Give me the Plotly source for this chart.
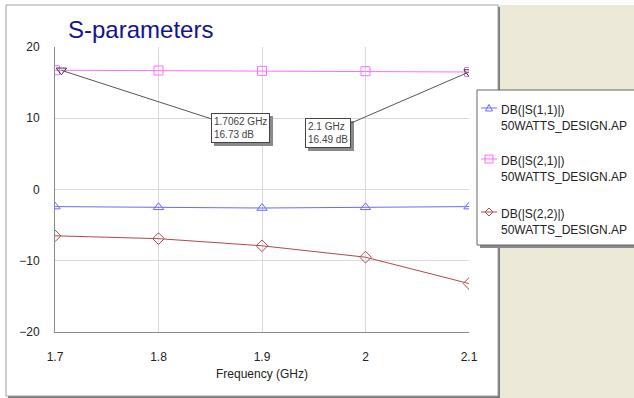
import plotly.graph_objects as go

freq = [1.7, 1.8, 1.9, 2.0, 2.1]
s11 = [-2.4, -2.5, -2.6, -2.5, -2.4]
s21 = [16.74, 16.70, 16.65, 16.60, 16.49]
s22 = [-6.5, -6.9, -7.9, -9.5, -13.2]
mk_freq = [1.7062, 2.1]
mk_val = [16.73, 16.49]
mk_text = ["1.7062 GHz<br>16.73 dB", "2.1 GHz<br>16.49 dB"]
src = "50WATTS_DESIGN.AP"
names = ["DB(|S(1,1)|)", "DB(|S(2,1)|)", "DB(|S(2,2)|)"]
colors = ["#6a6aff", "#ff6cff", "#b24a4a"]

W, H = 634, 398
L, R, T, B = 55, 469, 47, 332

def px(x):
    return (x - L) / (R - L)

def py(y):
    return (B - y) / (B - T)

def path(pts):
    return "M " + " L ".join(f"{px(a):.5f},{py(b):.5f}" for a, b in pts) + " Z"

FONT = "Liberation Sans, Arial, sans-serif"
fig = go.Figure()

series = [(s11, "triangle-up-open"), (s21, "square-open"), (s22, "diamond-open")]
for i, (vals, sym) in enumerate(series):
    col = colors[i]
    fig.add_trace(go.Scatter(
        x=freq, y=vals, mode="lines+markers", showlegend=False,
        name=names[i] + " " + src,
        line=dict(color=col, width=1),
        marker=dict(symbol=sym, size=9, color=col, line=dict(width=1, color=col)),
    ))

fig.add_trace(go.Scatter(
    x=mk_freq, y=mk_val, mode="markers", showlegend=False,
    marker=dict(symbol="triangle-down-open", size=9, color="#333333",
                line=dict(width=1, color="#333333")),
))

shapes = [
    dict(type="rect", xref="paper", yref="paper", x0=px(499), x1=px(640), y0=py(5), y1=py(400),
         fillcolor="#ECE9D8", line=dict(width=0), layer="below"),
    dict(type="rect", xref="paper", yref="paper", x0=px(8), x1=px(500), y0=py(7), y1=py(400),
         fillcolor="#7a7a7a", line=dict(width=0), layer="below"),
    dict(type="rect", xref="paper", yref="paper", x0=px(6), x1=px(498), y0=py(5), y1=py(396),
         fillcolor="white", line=dict(width=1, color="#a0a0a0"), layer="below"),
    dict(type="rect", xref="paper", yref="paper", x0=px(480), x1=px(640), y0=py(93), y1=py(248),
         fillcolor="#8a8a8a", line=dict(width=0), layer="above"),
    dict(type="rect", xref="paper", yref="paper", x0=px(477), x1=px(640), y0=py(90), y1=py(245),
         fillcolor="white", line=dict(width=1, color="#666666"), layer="above"),
]

leg_y = [108, 159, 212]
for i, yc in enumerate(leg_y):
    col = colors[i]
    shapes.append(dict(type="line", xref="paper", yref="paper", x0=px(481), x1=px(497),
                       y0=py(yc), y1=py(yc), line=dict(color=col, width=1), layer="above"))
    if i == 0:
        pts = [(485.5, yc + 3), (492.5, yc + 3), (489, yc - 3.5)]
    elif i == 1:
        pts = [(485, yc - 4), (493, yc - 4), (493, yc + 4), (485, yc + 4)]
    else:
        pts = [(485, yc), (489, yc - 4), (493, yc), (489, yc + 4)]
    shapes.append(dict(type="path", xref="paper", yref="paper", path=path(pts),
                       fillcolor="rgba(0,0,0,0)", line=dict(color=col, width=1), layer="above"))

annotations = [
    dict(text="S-parameters", xref="paper", yref="paper", x=px(66), y=py(29),
         xanchor="left", yanchor="middle", showarrow=False,
         font=dict(family=FONT, size=24, color="#14148a")),
]
for i, yc in enumerate(leg_y):
    annotations.append(dict(text=names[i] + "<br>" + src, xref="paper", yref="paper",
                            x=px(499), y=py(yc + 9.5), xanchor="left", yanchor="middle",
                            showarrow=False, align="left",
                            font=dict(family=FONT, size=12, color="#222222")))

offsets = [(179, 58), (-141, 61)]
for xv, yv, t, (ax, ay) in zip(mk_freq, mk_val, mk_text, offsets):
    annotations.append(dict(x=xv, y=yv, xref="x", yref="y", text=t, showarrow=True,
                            ax=ax, ay=ay, arrowhead=0, arrowwidth=1, arrowcolor="rgba(0,0,0,0)",
                            xshift=3, yshift=-3, align="left",
                            bgcolor="#8a8a8a", bordercolor="#8a8a8a", borderwidth=1, borderpad=2,
                            font=dict(family=FONT, size=10, color="rgba(0,0,0,0)")))
    annotations.append(dict(x=xv, y=yv, xref="x", yref="y", text=t, showarrow=True,
                            ax=ax, ay=ay, arrowhead=0, arrowwidth=1, arrowcolor="#555555",
                            align="left",
                            bgcolor="white", bordercolor="#444444", borderwidth=1, borderpad=2,
                            font=dict(family=FONT, size=10, color="#444444")))

fig.update_layout(
    width=W, height=H,
    margin=dict(l=L, r=W - R, t=T, b=H - B, autoexpand=False),
    paper_bgcolor="white", plot_bgcolor="white",
    font=dict(family=FONT, size=12, color="#222222"),
    shapes=shapes, annotations=annotations, showlegend=False,
    xaxis=dict(range=[1.7, 2.1], tickvals=freq, ticktext=["1.7", "1.8", "1.9", "2", "2.1"],
               showgrid=True, gridcolor="#dadada", zeroline=False,
               showline=True, linecolor="#8a8a8a", linewidth=1,
               ticks="outside", ticklen=14, tickcolor="rgba(0,0,0,0)",
               title=dict(text="Frequency (GHz)", standoff=6, font=dict(size=12)),
               tickfont=dict(size=12)),
    yaxis=dict(range=[-20, 20], tickvals=[-20, -10, 0, 10, 20],
               showgrid=True, gridcolor="#dadada", zeroline=False,
               showline=True, linecolor="#8a8a8a", linewidth=1,
               ticks="outside", ticklen=12, tickcolor="rgba(0,0,0,0)",
               tickfont=dict(size=12)),
)

fig.write_html("out.html")
